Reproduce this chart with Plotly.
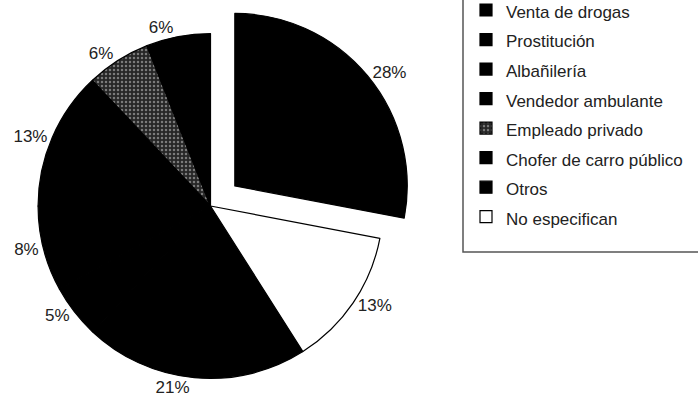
import plotly.graph_objects as go

# Ocupación declarada (porcentaje)
categorias = [
    "Venta de drogas",
    "Prostitución",
    "Albañilería",
    "Vendedor ambulante",
    "Empleado privado",
    "Chofer de carro público",
    "Otros",
    "No especifican",
]
porcentajes = [21, 5, 8, 13, 6, 6, 28, 13]

colores = ["#000000", "#000000", "#000000", "#000000",
           "#2e2e2e", "#000000", "#000000", "#ffffff"]
destacado = "Otros"

W, H = 698, 410
FUENTE = "Arial, Liberation Sans, sans-serif"

# Pull only the highlighted slice
separacion = [0.183 if c == destacado else 0 for c in categorias]

# First slice starts after "Otros" and "No especifican", which sit from 12 o'clock
inicio = 3.6 * (porcentajes[categorias.index("Otros")] +
                porcentajes[categorias.index("No especifican")])

fig = go.Figure(
    go.Pie(
        labels=[f'<span style="font-size:17px">{c}</span>' for c in categorias],
        values=porcentajes,
        sort=False,
        direction="clockwise",
        rotation=inicio,
        pull=separacion,
        marker=dict(
            colors=colores,
            line=dict(color="#000000", width=1.2),
            pattern=dict(
                shape=["", "", "", "", ".", "", "", ""],
                fgcolor="#7a7a7a",
                bgcolor="#262626",
                size=4,
                solidity=0.3,
            ),
        ),
        texttemplate="%{value}%",
        textposition="outside",
        textfont=dict(family=FUENTE, size=17, color="#222222"),
        domain=dict(x=[0, 421 / W], y=[0, 408 / H]),
        hoverinfo="label+percent",
    )
)

fig.update_layout(
    width=W,
    height=H,
    margin=dict(l=0, r=0, t=0, b=0, autoexpand=False),
    paper_bgcolor="white",
    plot_bgcolor="white",
    font=dict(family=FUENTE, color="#222222"),
    showlegend=True,
    legend=dict(
        x=466 / W,
        xanchor="left",
        y=1 + 9.75 / H,
        yanchor="top",
        maxheight=400,
        font=dict(family=FUENTE, size=20.4, color="#222222"),
        bgcolor="rgba(0,0,0,0)",
        borderwidth=0,
        traceorder="normal",
    ),
    shapes=[
        dict(
            type="rect",
            xref="paper",
            yref="paper",
            x0=463 / W,
            x1=1.03,
            y0=1 - 252 / H,
            y1=1.03,
            line=dict(color="#555555", width=1.5),
            fillcolor="rgba(0,0,0,0)",
        )
    ],
)

fig.write_html("out.html")
